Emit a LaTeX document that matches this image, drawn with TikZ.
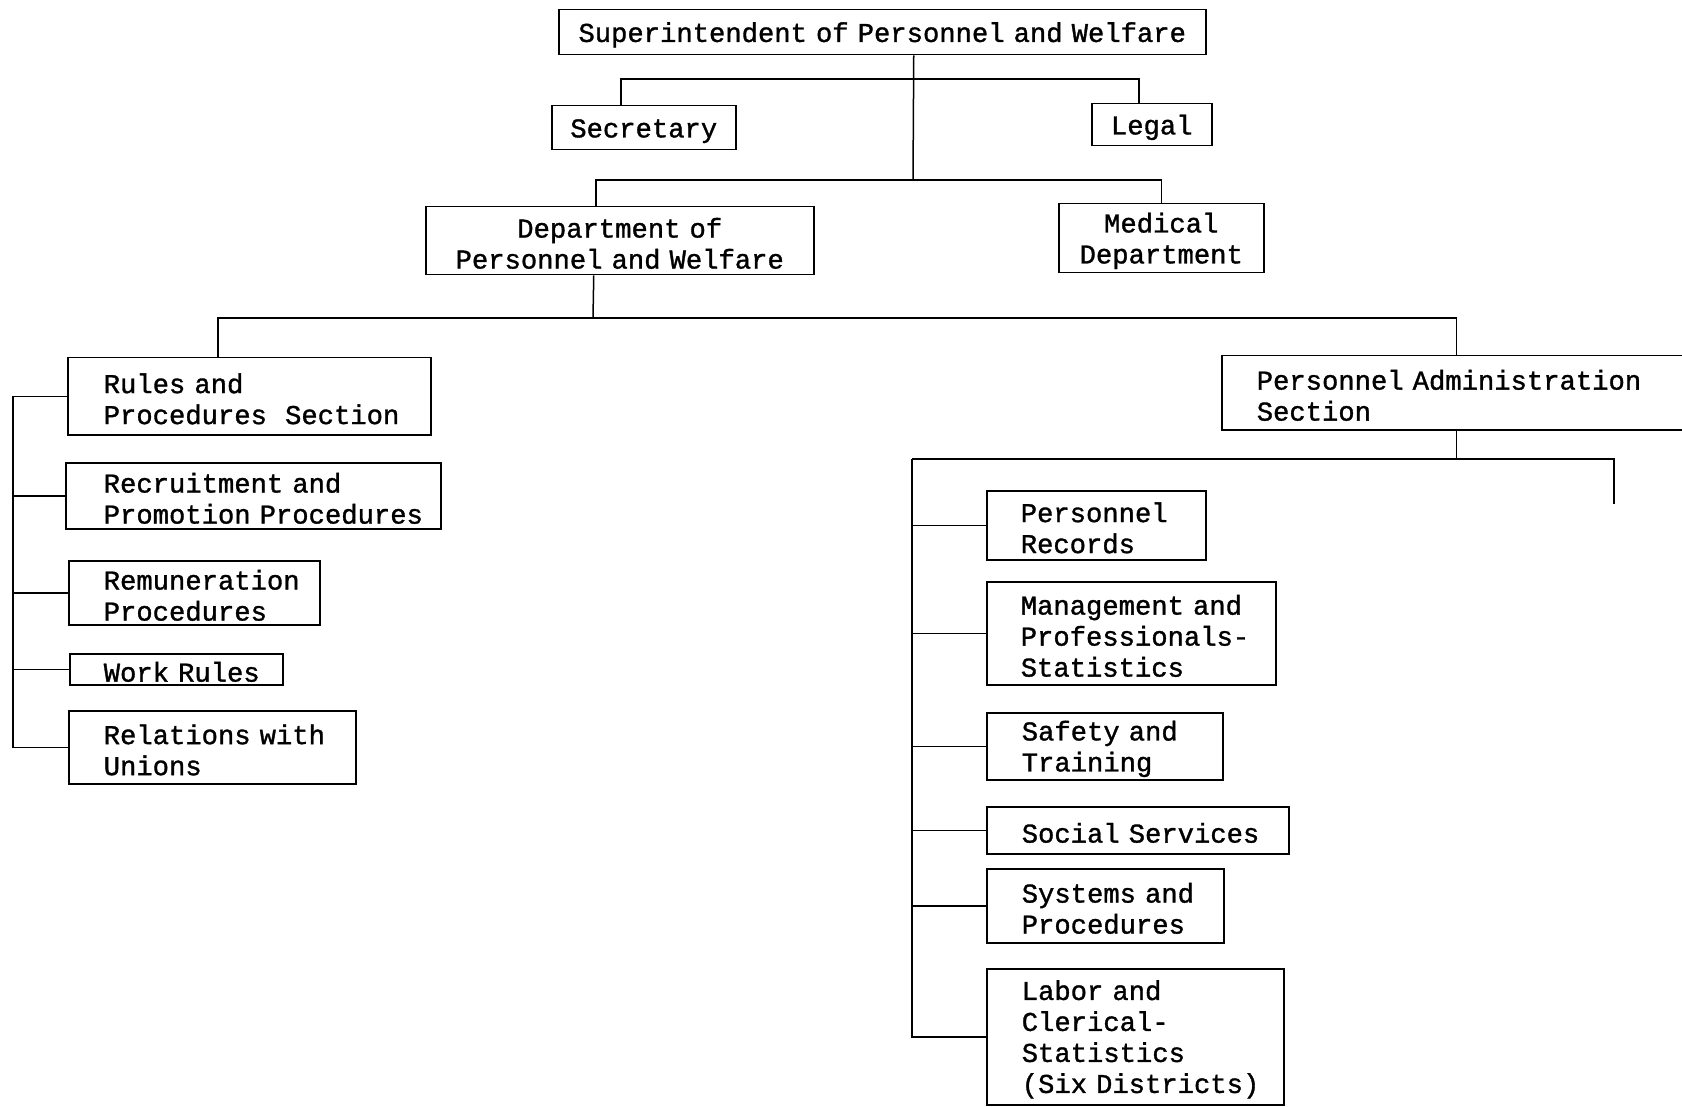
\documentclass[tikz,border=0pt]{standalone}
\usepackage{fontspec}
\setmonofont{Liberation Mono}[FakeBold=1.2]
\newcommand\twfont{\ttfamily\fontsize{27.2}{31}\selectfont}
\tikzset{
  ob/.style={draw, line width=1.5pt, anchor=north west, inner ysep=0pt, inner xsep=6pt, font=\twfont, text height=25pt},
  cb/.style 2 args={ob, align=center, text width={#1pt-12pt}, minimum height=#2pt},
  lbx/.style n args={3}{ob, align=left, text width={#1pt-12pt}, minimum height=#2pt,
      execute at begin node={\leftskip=#3pt}},
  ln/.style={line width=1.5pt}
}
\begin{document}
\begin{tikzpicture}[x=1pt,y=-1pt]
\fill[white] (0,0) rectangle (1682,1107);
\useasboundingbox (0,0) rectangle (1682,1107);

% top levels
\node[cb={647}{45}, inner xsep=1pt, text width=645pt] (sup) at (558,9) {Superintendent of Personnel and Welfare};
\node[cb={184}{44}] (sec) at (551,105) {Secretary};
\node[cb={120}{42}] (leg) at (1091,103) {Legal};
\node[cb={388}{68}] (dept) at (425,206) {Department of\\Personnel and Welfare};
\node[cb={205}{69}] (med) at (1058,203) {Medical\\Department};

% left column
\node[lbx={363}{77}{30}] (rules) at (67,357) {Rules and\\Procedures~~Section};
\node[lbx={375}{66}{32}] (rec) at (65,462) {Recruitment and\\Promotion~Procedures};
\node[lbx={251}{64}{29}] (rem) at (68,560) {Remuneration\\Procedures};
\node[lbx={213}{31}{28}] (wr) at (69,653) {Work~Rules};
\node[lbx={287}{73}{29}] (rel) at (68,710) {Relations~with\\Unions};

% right column
\node[lbx={469}{74}{29}] (pa) at (1221,355) {Personnel Administration\\Section};
\node[lbx={219}{69}{28}] (pr) at (986,490) {Personnel\\Records};
\node[lbx={289}{103}{28}] (mg) at (986,581) {Management and\\Professionals-\\Statistics};
\node[lbx={236}{67}{29}] (sf) at (986,712) {Safety and\\Training};
\node[lbx={302}{47}{29}] (ss) at (986,806) {Social Services};
\node[lbx={237}{74}{29}] (sy) at (986,868) {Systems and\\Procedures};
\node[lbx={297}{136}{29}] (lab) at (986,968) {Labor and\\Clerical-\\Statistics\\(Six Districts)};

% junctions
\coordinate (j1) at (913,79);
\coordinate (j2) at (913,180);
\coordinate (j3) at (593,318);
\coordinate (rb) at (912,459);
\coordinate (re) at (1614,504);
\coordinate (lb) at (13,0);

\draw[ln] ([xshift=31.5pt]sup.south) -- (j2);
\draw[ln] ([xshift=-23pt]sec.north) |- (j1) -| ([xshift=-13pt]leg.north);
\draw[ln] ([xshift=-24pt]dept.north) |- (j2) -| (med.north);
\draw[ln] ([xshift=-26pt]dept.south) -- (j3);
\draw[ln] ([xshift=-31.5pt]rules.north) |- (j3) -| (pa.north);

\draw[ln] (pa.south) |- (rb);
\draw[ln] (pa.south |- rb) -| (re);
\draw[ln] (rb) |- (lab.west);
\foreach \n in {pr,mg,sf,ss,sy} \draw[ln] (\n.west) -- (\n.west -| rb);

\draw[ln] (rules.west) -- (rules.west -| lb) |- (rel.west);
\foreach \n in {rec,rem,wr} \draw[ln] (\n.west) -- (\n.west -| lb);
\end{tikzpicture}
\end{document}
